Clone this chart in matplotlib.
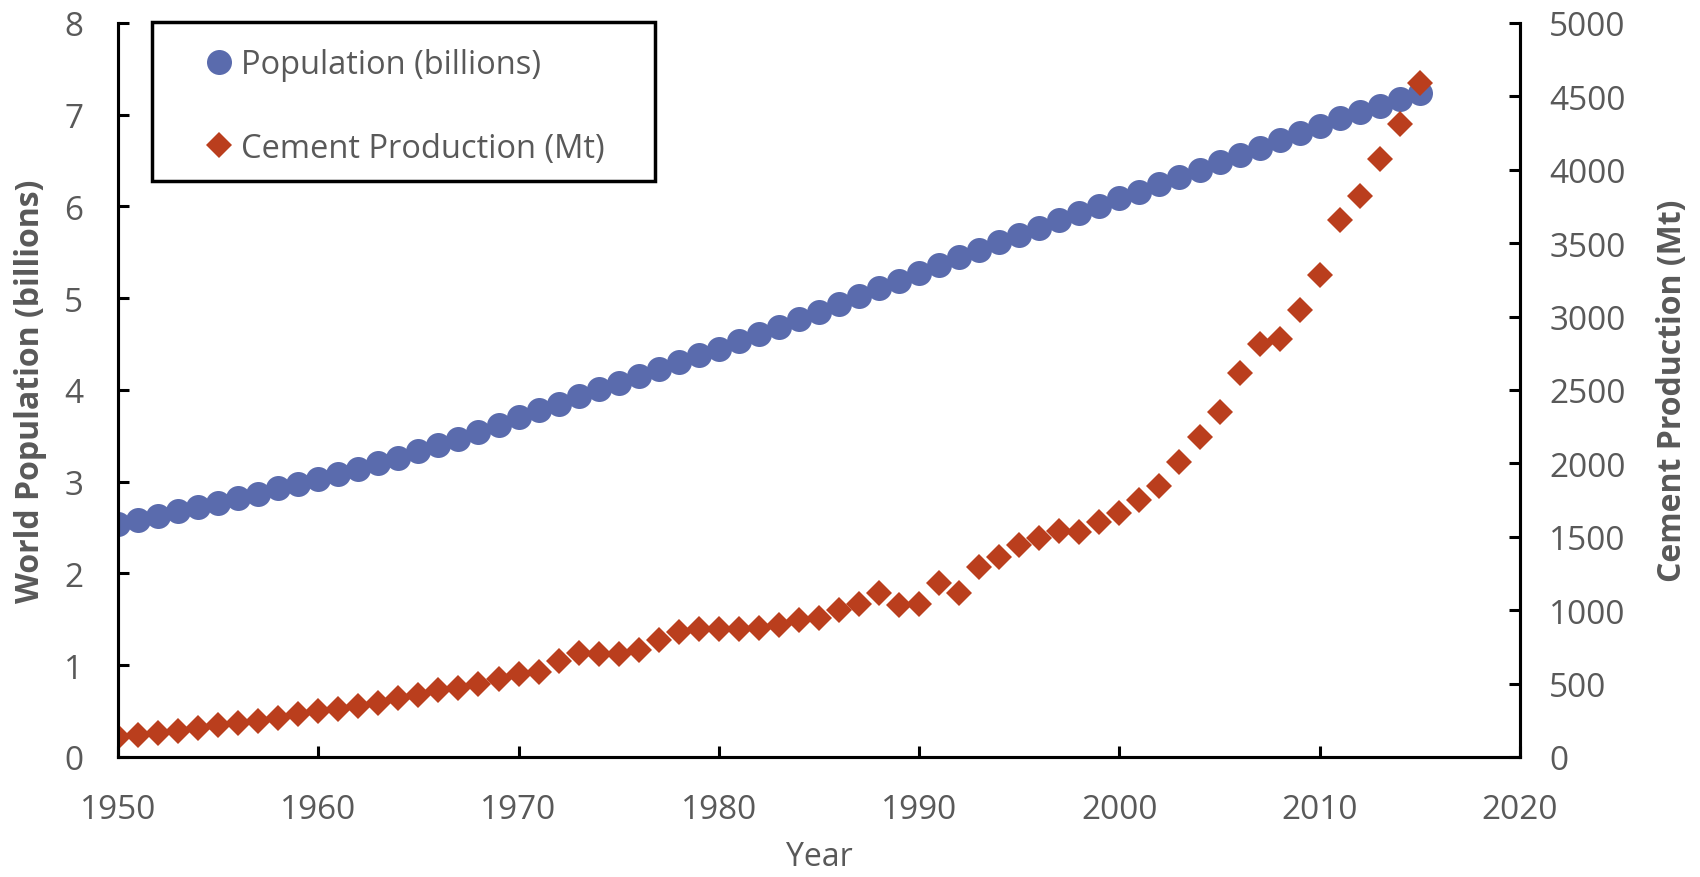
import matplotlib.pyplot as plt
from matplotlib.lines import Line2D
from matplotlib.patches import Rectangle

plt.rcParams['font.family'] = ['Open Sans', 'DejaVu Sans']

years = list(range(1950, 2016))

population = [2.54, 2.58, 2.63, 2.68, 2.72, 2.77, 2.82, 2.87, 2.93, 2.98,
              3.03, 3.08, 3.14, 3.20, 3.26, 3.33, 3.40, 3.47, 3.54, 3.62,
              3.70, 3.78, 3.85, 3.93, 4.01, 4.08, 4.15, 4.23, 4.30, 4.38,
              4.45, 4.53, 4.61, 4.69, 4.77, 4.85, 4.94, 5.02, 5.11, 5.19,
              5.28, 5.36, 5.45, 5.53, 5.61, 5.69, 5.77, 5.85, 5.93, 6.01,
              6.09, 6.16, 6.24, 6.32, 6.40, 6.48, 6.56, 6.64, 6.72, 6.80,
              6.88, 6.96, 7.03, 7.10, 7.17, 7.24]

cement = [133, 148, 163, 178, 195, 215, 230, 245, 265, 290,
          315, 330, 350, 370, 405, 420, 455, 470, 500, 530,
          565, 580, 655, 705, 700, 700, 730, 795, 850, 870,
          875, 875, 880, 900, 935, 950, 1000, 1045, 1115, 1035,
          1040, 1185, 1115, 1295, 1360, 1445, 1490, 1540, 1535, 1600,
          1660, 1750, 1845, 2010, 2180, 2350, 2615, 2810, 2850, 3045,
          3285, 3655, 3820, 4070, 4315, 4590]

labels = ['Population (billions)', 'Cement Production (Mt)']

pop_color = '#5A6BAD'
cem_color = '#BA3E1D'
text_gray = '#595959'

fig = plt.figure(figsize=(17, 8.78), dpi=100)
ax = fig.add_axes([0.0694, 0.1367, 0.8247, 0.836])
ax2 = ax.twinx()

ax.plot(years, population, linestyle='none', marker='o', markersize=18,
        color=pop_color, markeredgewidth=0)
ax2.plot(years, cement, linestyle='none', marker='D', markersize=13,
         color=cem_color, markeredgewidth=0)

ax.set_xlim(1950, 2020)
ax.set_ylim(0, 8)
ax2.set_ylim(0, 5000)
ax.set_xticks(range(1950, 2021, 10))
ax.set_yticks(range(0, 9))
ax2.set_yticks(range(0, 5001, 500))

for a in (ax, ax2):
    a.spines['top'].set_visible(False)
    for s in a.spines.values():
        s.set_linewidth(2.2)
        s.set_color('black')
    a.tick_params(direction='in', length=8, width=2.2, labelsize=24,
                  labelcolor=text_gray)
ax.tick_params(axis='x', pad=26)
ax.tick_params(axis='y', pad=25)
ax2.tick_params(axis='y', pad=21)

ax.set_xlabel('Year', fontsize=23, color=text_gray, labelpad=10)
ax.set_ylabel('World Population (billions)', fontsize=23, fontweight='bold',
              color=text_gray, labelpad=12)
ax2.set_ylabel('Cement Production (Mt)', fontsize=23, fontweight='bold',
               color=text_gray, labelpad=22)

# legend box (drawn separately so it can be as wide as the original)
box = Rectangle((0.024, 0.785), 0.359, 0.216, transform=ax2.transAxes,
                facecolor='white', edgecolor='black', linewidth=2.5,
                zorder=4, clip_on=False)
ax2.add_patch(box)

handles = [
    Line2D([], [], linestyle='none', marker='o', markersize=18,
           color=pop_color, markeredgewidth=0),
    Line2D([], [], linestyle='none', marker='D', markersize=13,
           color=cem_color, markeredgewidth=0),
]
leg = ax2.legend(handles, labels, loc='upper left',
                 bbox_to_anchor=(0.0613, 0.966), borderaxespad=0,
                 borderpad=0, frameon=False, fontsize=23.5,
                 labelspacing=1.55, handlelength=0.9, handletextpad=0.25)
leg.set_zorder(5)
for t in leg.get_texts():
    t.set_color(text_gray)

fig.savefig('out.png', dpi=100)
